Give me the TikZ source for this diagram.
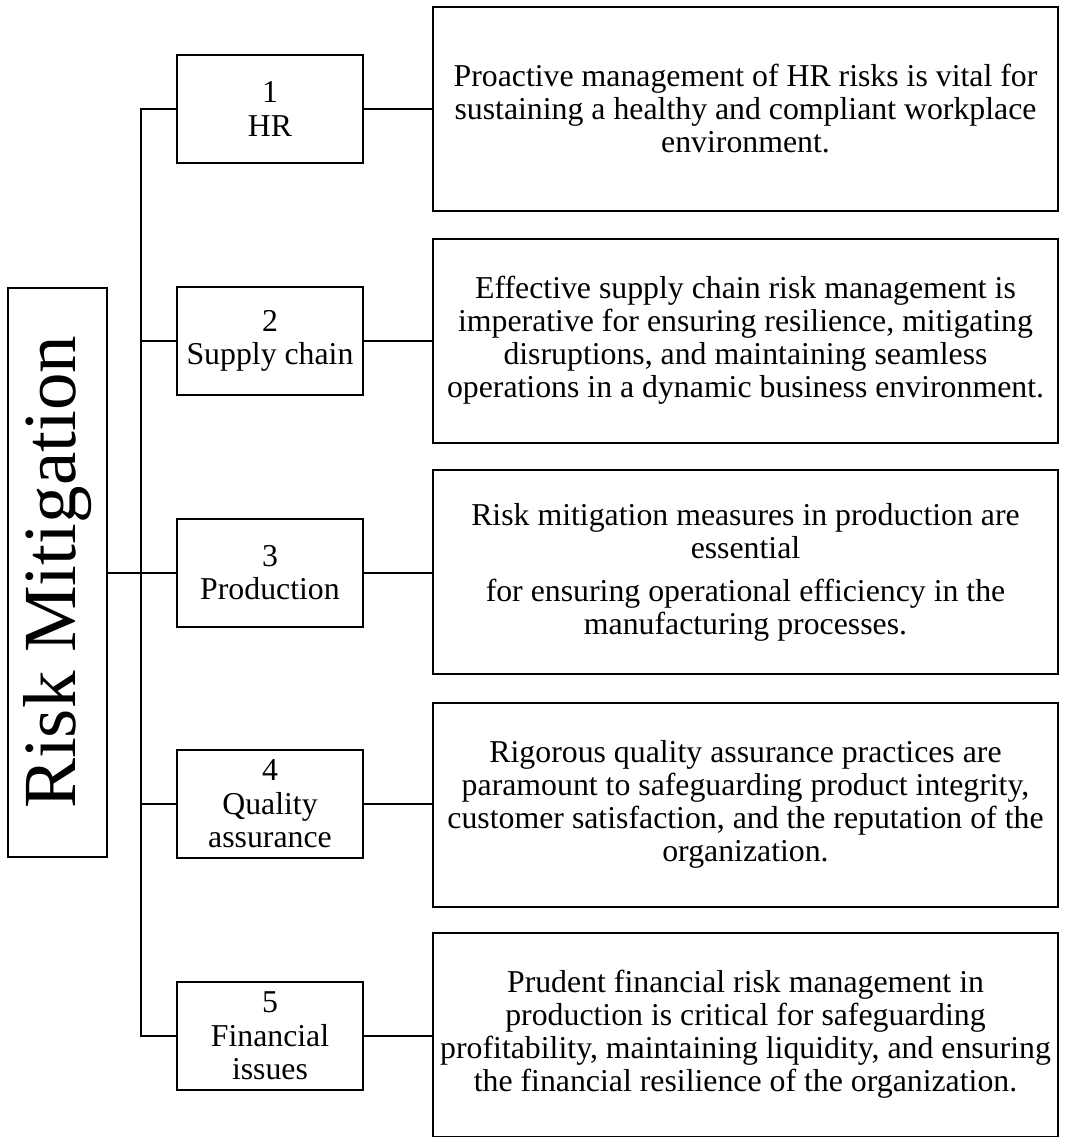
\documentclass[tikz,border=0pt]{standalone}
\usepackage{fontspec}
\setmainfont{Liberation Serif}

\begin{document}
\begin{tikzpicture}[x=1pt,y=-1pt,line width=2pt,
  cat/.style={draw, minimum width=186pt, minimum height=108pt, inner sep=0pt, align=center, font=\fontsize{31.8}{33.5}\selectfont},
  desc/.style={draw, minimum width=625pt, minimum height=204pt, inner sep=0pt, align=center, font=\fontsize{31.8}{33}\selectfont}]
\useasboundingbox (0,0) rectangle (1067,1137);
\node[draw, rotate=90, minimum width=569pt, minimum height=99pt, inner sep=0pt, font=\fontsize{75}{80}\selectfont] (root) at (57.5,572.5) {Risk Mitigation};
\node[cat] (hr) at (270,109) {1\\HR};
\node[cat] (supply) at (270,341) {2\\Supply chain};
\node[cat] (prod) at (270,572.5) {3\\Production};
\node[cat] (quality) at (270,804) {4\\Quality\\assurance};
\node[cat] (finance) at (270,1036) {5\\Financial\\issues};
\node[desc] (hrtext) at (745.5,109) {Proactive management of HR risks is vital for\\sustaining a healthy and compliant workplace\\environment.};
\node[desc] (supplytext) at (745.5,340.5) {Effective supply chain risk management is\\imperative for ensuring resilience, mitigating\\disruptions, and maintaining seamless\\operations in a dynamic business environment.};
\node[desc] (prodtext) at (745.5,572) {Risk mitigation measures in production are\\essential\\[10pt]for ensuring operational efficiency in the\\manufacturing processes.};
\node[desc] (qualitytext) at (745.5,804.5) {Rigorous quality assurance practices are\\paramount to safeguarding product integrity,\\customer satisfaction, and the reputation of the\\organization.};
\node[desc] (financetext) at (745.5,1034.5) {Prudent financial risk management in\\production is critical for safeguarding\\profitability, maintaining liquidity, and ensuring\\the financial resilience of the organization.};
% trunk
\draw (hr.west) -- ++(-35,0) |- (finance.west);
\draw (supply.west) -- ++(-35,0);
\draw (quality.west) -- ++(-35,0);
\draw (root.south) -- (prod.west);
% branches
\draw (hr.east) -- (hr.east -| hrtext.west);
\draw (supply.east) -- (supply.east -| supplytext.west);
\draw (prod.east) -- (prod.east -| prodtext.west);
\draw (quality.east) -- (quality.east -| qualitytext.west);
\draw (finance.east) -- (finance.east -| financetext.west);
\end{tikzpicture}
\end{document}
